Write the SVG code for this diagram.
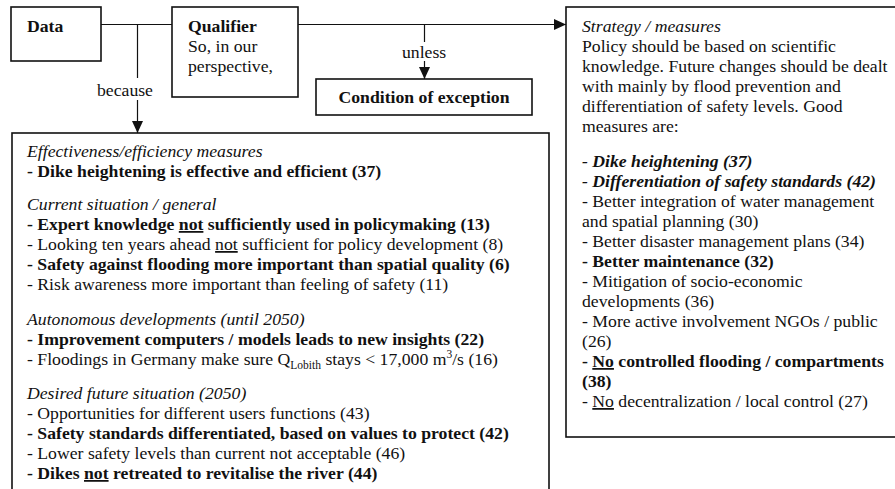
<svg xmlns="http://www.w3.org/2000/svg" width="895" height="489" viewBox="0 0 895 489">
<style>
.box{fill:#fff;stroke:#111;stroke-width:1.6}
.t{font-family:"Liberation Serif","Times New Roman",serif;font-size:17.7px;fill:#111}
.b{font-weight:bold}
.i{font-style:italic}
.u{text-decoration:underline}
.con{stroke:#111;stroke-width:1.2;fill:none}
.sub{font-size:11.5px}
</style>
<defs>
<marker id="arr" markerUnits="userSpaceOnUse" markerWidth="12" markerHeight="12" refX="12" refY="6" orient="auto">
<path d="M0,0.5 L12,6 L0,11.5 z" fill="#111"/>
</marker>
</defs>
<rect width="895" height="489" fill="#fff"/>
<g id="connectors">
<line class="con" x1="101" y1="24.5" x2="172" y2="24.5"/>
<line class="con" x1="298" y1="24.5" x2="566" y2="24.5" marker-end="url(#arr)"/>
<line class="con" x1="137.5" y1="24.5" x2="137.5" y2="78"/>
<line class="con" x1="137.5" y1="100" x2="137.5" y2="133" marker-end="url(#arr)"/>
<line class="con" x1="424.5" y1="24.5" x2="424.5" y2="42"/>
<line class="con" x1="424.5" y1="61" x2="424.5" y2="79" marker-end="url(#arr)"/>
<text class="t" x="97" y="96">because</text>
<text class="t" x="402" y="58">unless</text>
</g>
<g id="data">
<rect class="box" x="11" y="7" width="90" height="54"/>
<text class="t b" x="27" y="32">Data</text>
</g>
<g id="qualifier">
<rect class="box" x="172" y="7" width="126" height="90"/>
<text class="t b" x="188" y="32">Qualifier</text>
<text class="t" x="188" y="52">So, in our</text>
<text class="t" x="188" y="72">perspective,</text>
</g>
<g id="condition">
<rect class="box" x="316" y="79" width="216" height="36"/>
<text class="t b" x="424" y="103" text-anchor="middle">Condition of exception</text>
</g>
<g id="grounds">
<rect class="box" x="12" y="133" width="537" height="380"/>
<text class="t i" x="27" y="157">Effectiveness/efficiency measures</text>
<text class="t b" x="27" y="177">- Dike heightening is effective and efficient (37)</text>
<text class="t i" x="27" y="210">Current situation / general</text>
<text class="t b" x="27" y="230">- Expert knowledge <tspan class="u">not</tspan> sufficiently used in policymaking (13)</text>
<text class="t" x="27" y="250">- Looking ten years ahead <tspan class="u">not</tspan> sufficient for policy development (8)</text>
<text class="t b" x="27" y="270">- Safety against flooding more important than spatial quality (6)</text>
<text class="t" x="27" y="290">- Risk awareness more important than feeling of safety (11)</text>
<text class="t i" x="27" y="325">Autonomous developments (until 2050)</text>
<text class="t b" x="27" y="345">- Improvement computers / models leads to new insights (22)</text>
<text class="t" x="27" y="365">- Floodings in Germany make sure Q<tspan class="sub" dy="4">Lobith</tspan><tspan dy="-4"> stays &lt; 17,000 m</tspan><tspan class="sub" dy="-7">3</tspan><tspan dy="7">/s (16)</tspan></text>
<text class="t i" x="27" y="399">Desired future situation (2050)</text>
<text class="t" x="27" y="419">- Opportunities for different users functions (43)</text>
<text class="t b" x="27" y="439">- Safety standards differentiated, based on values to protect (42)</text>
<text class="t" x="27" y="459">- Lower safety levels than current not acceptable (46)</text>
<text class="t b" x="27" y="479">- Dikes <tspan class="u">not</tspan> retreated to revitalise the river (44)</text>
</g>
<g id="strategy">
<rect class="box" x="566" y="7" width="334" height="430"/>
<text class="t i" x="582" y="32">Strategy / measures</text>
<text class="t" x="582" y="52">Policy should be based on scientific</text>
<text class="t" x="582" y="72">knowledge. Future changes should be dealt</text>
<text class="t" x="582" y="92">with mainly by flood prevention and</text>
<text class="t" x="582" y="112">differentiation of safety levels. Good</text>
<text class="t" x="582" y="132">measures are:</text>
<text class="t b i" x="582" y="167">- Dike heightening (37)</text>
<text class="t b i" x="582" y="187">- Differentiation of safety standards (42)</text>
<text class="t" x="582" y="207">- Better integration of water management</text>
<text class="t" x="582" y="227">and spatial planning (30)</text>
<text class="t" x="582" y="247">- Better disaster management plans (34)</text>
<text class="t b" x="582" y="267">- Better maintenance (32)</text>
<text class="t" x="582" y="287">- Mitigation of socio-economic</text>
<text class="t" x="582" y="307">developments (36)</text>
<text class="t" x="582" y="327">- More active involvement NGOs / public</text>
<text class="t" x="582" y="347">(26)</text>
<text class="t b" x="582" y="367">- <tspan class="u">No</tspan> controlled flooding / compartments</text>
<text class="t b" x="582" y="387">(38)</text>
<text class="t" x="582" y="407">- <tspan class="u">No</tspan> decentralization / local control (27)</text>
</g>
</svg>
